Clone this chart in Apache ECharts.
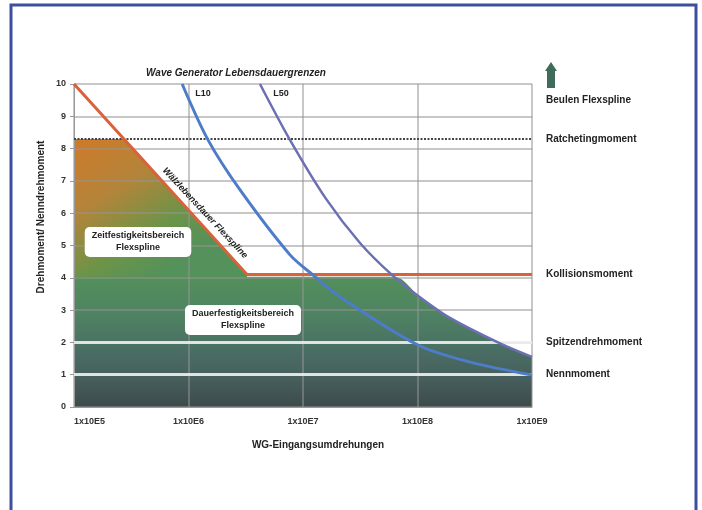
<!DOCTYPE html>
<html>
<head>
<meta charset="utf-8">
<script src="https://cdn.jsdelivr.net/npm/echarts@6/dist/echarts.min.js"></script>
<style>
html, body { margin: 0; padding: 0; background: #fff; }
#chart { width: 702px; height: 510px; }
</style>
</head>
<body>
<div id="chart"></div>
<script>
// Werte
var xTickLabels = ['1x10E5', '1x10E6', '1x10E7', '1x10E8', '1x10E9'];
var redN = [1e5, 3.24e6, 1e9];
var redT = [10, 4.1, 4.1];
var l10N = [8.8e5, 1.48e6, 2.82e6, 7.7e6, 1.22e7, 2.1e7, 1.01e8, 2.88e8, 1e9];
var l10T = [10, 8.27, 6.72, 4.71, 4.09, 3.41, 1.92, 1.39, 0.99];
var l50N = [4.21e6, 7.69e6, 1.585e7, 3.16e7, 5.98e7, 1.05e8, 1.92e8, 5.26e8, 1e9];
var l50T = [10, 8.27, 6.45, 5.07, 4.09, 3.40, 2.76, 1.97, 1.55];
var zeitN = [1e5, 2.72e5, 3.24e6];
var zeitT = [8.3, 8.3, 4.1];
var dauerTop = 4.03;
var dauerStartN = 6.28e7;
var refNames = ['Ratchetingmoment', 'Kollisionsmoment', 'Spitzendrehmoment', 'Nennmoment'];
var refValues = [8.3, 4.1, 2.0, 1.0];

function zip(a, b) {
    return a.map(function (v, i) { return [v, b[i]]; });
}

var font = '"Liberation Sans", Arial, sans-serif';

// Dauerfestigkeit: unter 4, rechts durch L50 begrenzt
var dauerData = [[1e5, dauerTop], [dauerStartN, dauerTop]];
l50N.forEach(function (n, i) {
    if (l50T[i] < dauerTop) dauerData.push([n, l50T[i]]);
});

var refStyles = {
    'Ratchetingmoment': { color: '#444', width: 2, type: [2, 1.5] },
    'Kollisionsmoment': { color: 'rgba(0,0,0,0)', width: 1, type: 'solid' },
    'Spitzendrehmoment': { color: 'rgba(238,238,238,0.9)', width: 3, type: 'solid' },
    'Nennmoment': { color: 'rgba(238,238,238,0.9)', width: 3, type: 'solid' }
};
var refLines = refNames.map(function (n, i) {
    return { name: n, yAxis: refValues[i], lineStyle: refStyles[n] };
});

var myChart = echarts.init(document.getElementById('chart'));
var option = {
    animation: false,
    backgroundColor: '#fff',
    grid: { left: 74, right: 170, top: 84, bottom: 103 },
    xAxis: {
        type: 'log',
        logBase: 10,
        min: 1e5,
        max: 1e9,
        z: 3,
        axisLine: { lineStyle: { color: '#999', width: 1 } },
        axisTick: { show: false },
        minorTick: { show: false },
        axisLabel: {
            margin: 10,
            fontSize: 9,
            fontWeight: 'bold',
            fontFamily: font,
            color: '#333',
            alignMinLabel: 'left',
            formatter: function (v) {
                return xTickLabels[Math.round(Math.log10(v)) - 5];
            }
        },
        splitLine: { show: true, lineStyle: { color: 'rgba(150,150,150,0.7)', width: 1.5 } }
    },
    yAxis: {
        type: 'value',
        min: 0,
        max: 10,
        interval: 1,
        z: 3,
        axisLine: { show: true, lineStyle: { color: '#999', width: 1 } },
        axisTick: { show: true, length: 4, lineStyle: { color: '#999' } },
        axisLabel: {
            margin: 8,
            fontSize: 9,
            fontWeight: 'bold',
            fontFamily: font,
            color: '#333'
        },
        splitLine: { show: true, lineStyle: { color: 'rgba(150,150,150,0.7)', width: 1.5 } }
    },
    series: [
        {
            name: 'Zeitfestigkeit',
            type: 'line',
            z: 1,
            symbol: 'none',
            silent: true,
            lineStyle: { width: 0 },
            areaStyle: {
                opacity: 1,
                color: {
                    type: 'linear', x: 0, y: 0, x2: 0.5, y2: 0.5,
                    colorStops: [
                        { offset: 0, color: '#cf7a28' },
                        { offset: 0.4, color: '#b4843a' },
                        { offset: 0.75, color: '#6c9448' },
                        { offset: 1, color: '#55915a' }
                    ]
                }
            },
            data: zip(zeitN, zeitT)
        },
        {
            name: 'Dauerfestigkeit',
            type: 'line',
            z: 1,
            symbol: 'none',
            silent: true,
            smooth: 0.3,
            lineStyle: { width: 0 },
            areaStyle: {
                opacity: 1,
                color: {
                    type: 'linear', x: 0, y: 0, x2: 0, y2: 1,
                    colorStops: [
                        { offset: 0, color: '#53905a' },
                        { offset: 0.3, color: '#4e8262' },
                        { offset: 0.55, color: '#4a6f64' },
                        { offset: 0.8, color: '#465d5c' },
                        { offset: 1, color: '#3d4a4a' }
                    ]
                }
            },
            data: dauerData
        },
        {
            name: 'Grenze',
            type: 'line',
            z: 5,
            symbol: 'none',
            lineStyle: { color: '#d9623b', width: 3 },
            data: zip(redN, redT),
            markLine: {
                silent: true,
                symbol: ['none', 'none'],
                label: {
                    show: true,
                    position: 'end',
                    distance: 14,
                    formatter: '{b}',
                    fontSize: 10,
                    fontWeight: 'bold',
                    fontFamily: font,
                    color: '#222'
                },
                data: refLines
            }
        },
        {
            name: 'L10',
            type: 'line',
            z: 6,
            symbol: 'none',
            smooth: 0.3,
            lineStyle: { color: '#4d7cc9', width: 3 },
            data: zip(l10N, l10T)
        },
        {
            name: 'L50',
            type: 'line',
            z: 6,
            symbol: 'none',
            smooth: 0.3,
            lineStyle: { color: '#6c70b2', width: 2.5 },
            data: zip(l50N, l50T)
        }
    ],
    graphic: [
        {
            type: 'rect', silent: true, z: 100,
            shape: { x: 11, y: 5, width: 685, height: 530 },
            style: { fill: null, stroke: '#3d4e9e', lineWidth: 3 }
        },
        {
            type: 'text', x: 236, y: 73, z: 100,
            style: { text: 'Wave Generator Lebensdauergrenzen', font: 'italic bold 10px ' + font, fill: '#222', textAlign: 'center', textVerticalAlign: 'middle' }
        },
        {
            type: 'text', x: 203, y: 94, z: 100,
            style: { text: 'L10', font: 'bold 9px ' + font, fill: '#222', textAlign: 'center', textVerticalAlign: 'middle' }
        },
        {
            type: 'text', x: 281, y: 94, z: 100,
            style: { text: 'L50', font: 'bold 9px ' + font, fill: '#222', textAlign: 'center', textVerticalAlign: 'middle' }
        },
        {
            type: 'polygon', z: 100,
            shape: { points: [[551, 62], [557, 71], [555, 71], [555, 88], [547, 88], [547, 71], [545, 71]] },
            style: { fill: '#3e6b5a' }
        },
        {
            type: 'text', x: 546, y: 100, z: 100,
            style: { text: 'Beulen Flexspline', font: 'bold 10px ' + font, fill: '#222', textAlign: 'left', textVerticalAlign: 'middle' }
        },
        {
            type: 'text', x: 205, y: 213, rotation: -0.82, z: 100,
            style: { text: 'Wälzlebensdauer Flexspline', font: 'italic bold 9px ' + font, fill: '#222', textAlign: 'center', textVerticalAlign: 'middle' }
        },
        {
            type: 'text', x: 138, y: 242, z: 100,
            style: {
                text: 'Zeitfestigkeitsbereich\nFlexspline', font: 'bold 9px ' + font, fill: '#222',
                textAlign: 'center', textVerticalAlign: 'middle', lineHeight: 12,
                backgroundColor: '#fff', padding: [3, 7], borderRadius: 5
            }
        },
        {
            type: 'text', x: 243, y: 320, z: 100,
            style: {
                text: 'Dauerfestigkeitsbereich\nFlexspline', font: 'bold 9px ' + font, fill: '#222',
                textAlign: 'center', textVerticalAlign: 'middle', lineHeight: 12,
                backgroundColor: '#fff', padding: [3, 7], borderRadius: 5
            }
        },
        {
            type: 'text', x: 41, y: 217, rotation: Math.PI / 2, z: 100,
            style: { text: 'Drehmoment/ Nenndrehmoment', font: 'bold 10px ' + font, fill: '#222', textAlign: 'center', textVerticalAlign: 'middle' }
        },
        {
            type: 'text', x: 318, y: 445, z: 100,
            style: { text: 'WG-Eingangsumdrehungen', font: 'bold 10px ' + font, fill: '#222', textAlign: 'center', textVerticalAlign: 'middle' }
        }
    ]
};
myChart.setOption(option);
</script>
</body>
</html>
